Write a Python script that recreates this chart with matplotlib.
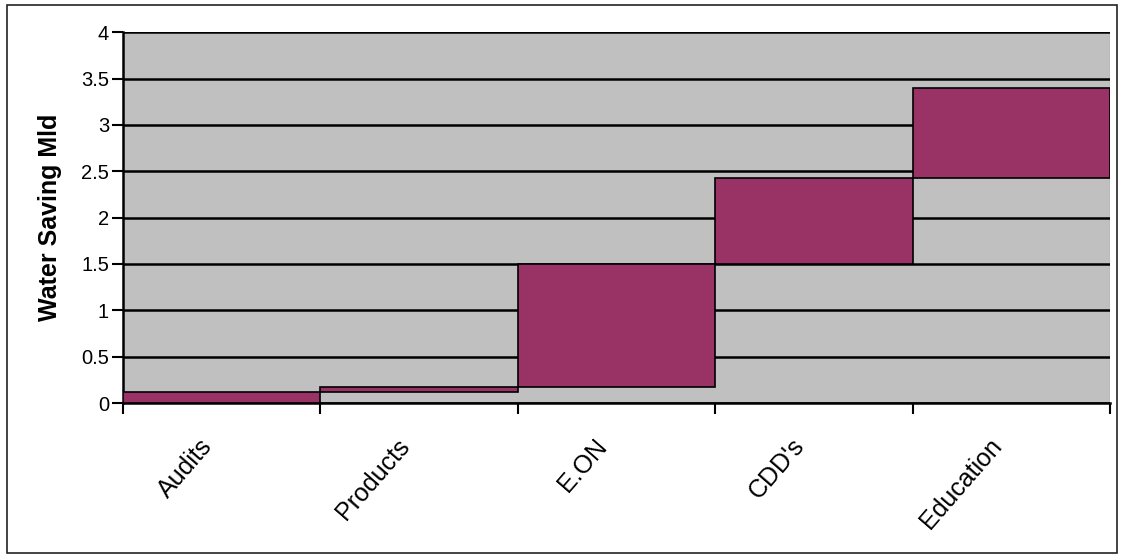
import matplotlib
matplotlib.use("Agg")
import matplotlib.pyplot as plt
from matplotlib.patches import Rectangle
import numpy as np

plt.rcParams['font.family'] = ['Liberation Sans', 'DejaVu Sans']

# water saving contributed by each measure (Mld), stacked as a waterfall
categories = ["Audits", "Products", "E.ON", "CDD's", "Education"]
savings = [0.12, 0.05, 1.33, 0.93, 0.97]

tops = np.cumsum(savings)
bottoms = tops - np.array(savings)

fig = plt.figure(figsize=(11.22, 5.59), dpi=100)
fig.patch.set_facecolor('white')

# thin frame round the whole chart
fig.patches.append(Rectangle((0.0062, 0.011), 0.9893, 0.98, transform=fig.transFigure,
                             fill=False, edgecolor='#222222', linewidth=1.2))

ax = fig.add_axes([0.1096, 0.279, 0.8797, 0.6635])
ax.set_facecolor('#c0c0c0')

x = np.arange(len(categories))
ax.bar(x, savings, bottom=bottoms, width=1.0, align='edge',
       color='#993366', edgecolor='black', linewidth=1.2, zorder=3)

ax.set_xlim(0, len(categories))
ax.set_ylim(0, 4)
ax.set_yticks(np.arange(0, 4.01, 0.5))
ax.set_yticklabels(['0', '0.5', '1', '1.5', '2', '2.5', '3', '3.5', '4'])
ax.yaxis.grid(True, color='black', linewidth=1.8, zorder=1)
ax.set_axisbelow(True)

# category boundaries get the ticks, names sit at the centres
ax.set_xticks(np.arange(len(categories) + 1))
ax.set_xticklabels([])
for i, name in enumerate(categories):
    ax.text(i + 0.43, -0.42, name, rotation=49, rotation_mode='anchor',
            ha='right', va='center', fontsize=18)

ax.tick_params(axis='both', direction='out', length=8, width=1.5, colors='black')
ax.tick_params(axis='y', labelsize=14.5, pad=2)

for side in ('top', 'right'):
    ax.spines[side].set_visible(False)
ax.spines['left'].set_linewidth(1.8)
ax.spines['bottom'].set_linewidth(1.8)
ax.axvline(len(categories), color='#a0a0a0', linewidth=1, zorder=0)

ax.set_ylabel('Water Saving Mld', fontsize=18, fontweight='bold')
ax.yaxis.set_label_coords(-0.062, 0.5)

fig.savefig('out.png', dpi=100, facecolor='white')
